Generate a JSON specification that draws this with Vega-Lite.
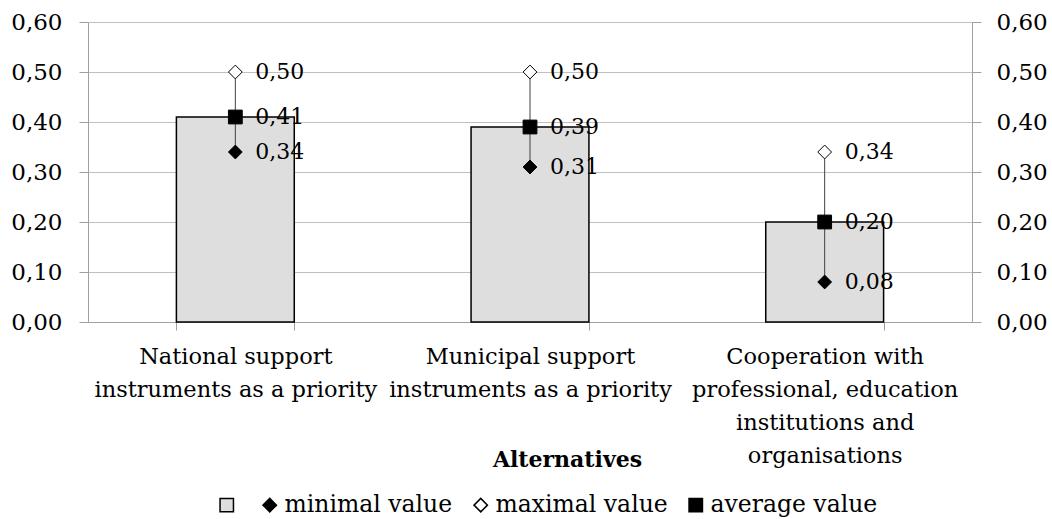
{
  "$schema": "https://vega.github.io/schema/vega-lite/v6.json",
  "width": 884,
  "height": 300,
  "autosize": "none",
  "padding": {"left": 88, "top": 22, "right": 80, "bottom": 197},
  "config": {
    "locale": {"number": {"decimal": ",", "thousands": " ", "grouping": [3], "currency": ["", ""]}},
    "font": "DejaVu Serif",
    "view": {"stroke": null}
  },
  "data": {
    "values": [
      {"category": "National support instruments as a priority", "minimal value": 0.34, "maximal value": 0.50, "average value": 0.41},
      {"category": "Municipal support instruments as a priority", "minimal value": 0.31, "maximal value": 0.50, "average value": 0.39},
      {"category": "Cooperation with professional, education institutions and organisations", "minimal value": 0.08, "maximal value": 0.34, "average value": 0.20}
    ]
  },
  "encoding": {
    "x": {
      "field": "category",
      "type": "nominal",
      "sort": null,
      "scale": {"paddingInner": 0.6, "paddingOuter": 0.3},
      "axis": {
        "title": "Alternatives",
        "titleFont": "DejaVu Serif",
        "titleFontSize": 22,
        "titleFontWeight": "bold",
        "titleColor": "black",
        "titleX": 479,
        "titleY": 137,
        "titleBaseline": "middle",
        "titleAlign": "center",
        "labelAngle": 0,
        "labelFont": "DejaVu Serif",
        "labelFontSize": 22.5,
        "labelColor": "black",
        "labelLineHeight": 33,
        "labelPadding": 15,
        "labelLimit": 400,
        "labelOverlap": false,
        "labelExpr": "datum.label == 'National support instruments as a priority' ? ['National support', 'instruments as a priority'] : datum.label == 'Municipal support instruments as a priority' ? ['Municipal support', 'instruments as a priority'] : datum.label == 'Cooperation with professional, education institutions and organisations' ? ['Cooperation with', 'professional, education', 'institutions and', 'organisations'] : ''",
        "tickBand": "extent",
        "tickSize": 8,
        "tickColor": "#a0a0a0",
        "domainColor": "#a0a0a0",
        "grid": false
      }
    }
  },
  "layer": [
    {
      "mark": {"type": "bar", "fill": "#dedede", "stroke": "black", "strokeWidth": 1.5},
      "encoding": {
        "y": {
          "field": "average value",
          "type": "quantitative",
          "scale": {"domain": [0, 0.6], "nice": false},
          "axis": {
            "orient": "left",
            "title": null,
            "values": [0, 0.1, 0.2, 0.3, 0.4, 0.5, 0.6],
            "format": ".2f",
            "labelFont": "DejaVu Serif",
            "labelFontSize": 23,
            "labelColor": "black",
            "labelPadding": 17,
            "tickSize": 9,
            "tickColor": "#a0a0a0",
            "domainColor": "#a0a0a0",
            "grid": true,
            "gridColor": "#c0c0c0"
          }
        }
      }
    },
    {
      "mark": {"type": "rule", "color": "#404040", "strokeWidth": 1},
      "encoding": {
        "y": {
          "field": "minimal value",
          "type": "quantitative",
          "scale": {"domain": [0, 0.6], "nice": false},
          "axis": {
            "orient": "right",
            "title": null,
            "values": [0, 0.1, 0.2, 0.3, 0.4, 0.5, 0.6],
            "format": ".2f",
            "labelFont": "DejaVu Serif",
            "labelFontSize": 23,
            "labelColor": "black",
            "labelPadding": 15,
            "tickSize": 9,
            "tickColor": "#a0a0a0",
            "domainColor": "#a0a0a0",
            "grid": false
          }
        },
        "y2": {"field": "maximal value"}
      }
    },
    {
      "transform": [{"fold": ["minimal value", "maximal value", "average value"], "as": ["series", "value"]}],
      "layer": [
        {
          "mark": {"type": "point", "filled": true, "stroke": "black", "strokeWidth": 1, "opacity": 1, "size": 190},
          "encoding": {
            "y": {"field": "value", "type": "quantitative", "scale": {"domain": [0, 0.6], "nice": false}, "axis": null},
            "shape": {
              "field": "series",
              "type": "nominal",
              "scale": {"domain": [" ", "minimal value", "maximal value", "average value"], "range": ["square", "diamond", "diamond", "square"]},
              "legend": {
                "title": null,
                "orient": "none",
                "legendX": 127,
                "legendY": 471,
                "direction": "horizontal",
                "labelFont": "DejaVu Serif",
                "labelFontSize": 23.5,
                "labelColor": "black",
                "labelLimit": 300,
                "labelExpr": "datum.label == ' ' ? '\u00a0\u00a0\u00a0\u00a0' : datum.label",
                "symbolSize": 180,
                "columnPadding": 16,
                "labelOffset": 3,
                "encode": {"symbols": {"update": {"stroke": {"value": "black"}, "strokeWidth": {"value": 1}, "opacity": {"value": 1}}}}
              }
            },
            "fill": {
              "field": "series",
              "type": "nominal",
              "scale": {"domain": [" ", "minimal value", "maximal value", "average value"], "range": ["#dedede", "black", "white", "black"]},
              "legend": {
                "title": null,
                "orient": "none",
                "legendX": 127,
                "legendY": 471,
                "direction": "horizontal",
                "labelFont": "DejaVu Serif",
                "labelFontSize": 23.5,
                "labelColor": "black",
                "labelLimit": 300,
                "labelExpr": "datum.label == ' ' ? '\u00a0\u00a0\u00a0\u00a0' : datum.label",
                "symbolSize": 180,
                "columnPadding": 16,
                "labelOffset": 3,
                "encode": {"symbols": {"update": {"stroke": {"value": "black"}, "strokeWidth": {"value": 1}, "opacity": {"value": 1}}}}
              }
            }
          }
        },
        {
          "mark": {"type": "text", "align": "left", "baseline": "middle", "dx": 20, "fontSize": 22, "font": "DejaVu Serif", "color": "black"},
          "encoding": {
            "y": {"field": "value", "type": "quantitative", "scale": {"domain": [0, 0.6], "nice": false}, "axis": null},
            "text": {"field": "value", "type": "quantitative", "format": ".2f"}
          }
        }
      ]
    }
  ],
  "resolve": {"axis": {"y": "independent"}}
}
